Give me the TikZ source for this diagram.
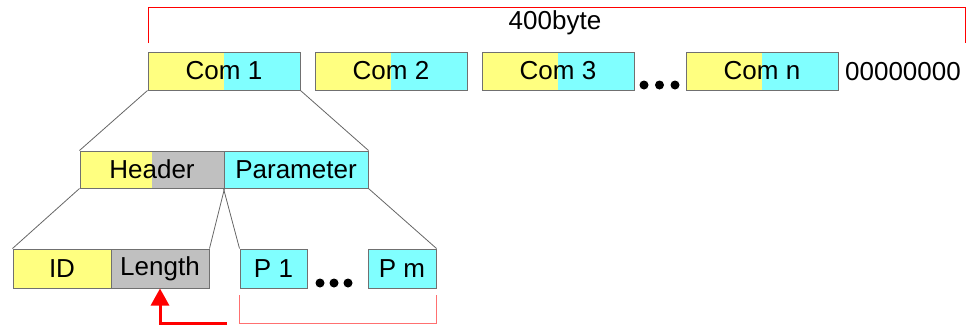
\documentclass[tikz,border=0pt]{standalone}
\usepackage{fontspec}
\setmainfont{Liberation Sans}
\usetikzlibrary{arrows.meta}
\definecolor{ylw}{HTML}{FFFF80}
\definecolor{cyn}{HTML}{80FFFF}
\definecolor{gry}{HTML}{C0C0C0}
\definecolor{edge}{HTML}{707070}
\definecolor{lred}{HTML}{FF7070}
\tikzset{
  box/.style={draw=edge, line width=1pt, inner sep=0pt, minimum height=38pt,
    font=\fontsize{26}{30}\selectfont},
  halves/.style 2 args={box, fill=#2, path picture={
    \fill[#1] (path picture bounding box.south west) rectangle (path picture bounding box.north);}},
  fan/.style={draw=black!60, line width=0.8pt},
  dotc/.style={fill=black},
  lbl/.style={inner sep=0pt, font=\fontsize{26}{30}\selectfont},
}
\begin{document}
\begin{tikzpicture}[x=1pt,y=-1pt]
\useasboundingbox (0,0) rectangle (978,327);
% top bracket
\coordinate (tl) at (148,43);
\coordinate (tr) at (965,43);
\draw[red, line width=0.8pt] (tl) -- (148,7) -- (965,7) -- (tr);
\node[lbl] (bytes) at (555,23) {400byte};
% com boxes
\node[halves={ylw}{cyn}, minimum width=152pt] (c1) at (224,71) {Com 1};
\node[halves={ylw}{cyn}, minimum width=152pt] (c2) at (391,71) {Com 2};
\node[halves={ylw}{cyn}, minimum width=152pt] (c3) at (558,71) {Com 3};
\node[halves={ylw}{cyn}, minimum width=152pt] (cn) at (762,71) {Com n};
\fill[dotc] (644,85) circle (4.5) (659.5,85) circle (4.5) (675,85) circle (4.5);
\node[lbl] (zeros) at (903,72) {00000000};
% header / parameter
\node[halves={ylw}{gry}, minimum width=144pt, minimum height=37pt] (hdr) at (152,169.5) {Header};
\node[box, fill=cyn, minimum width=144pt, minimum height=37pt] (par) at (296,169.5) {Parameter};
% bottom row
\node[box, fill=ylw, minimum width=98pt, minimum height=39pt] (id) at (62,268.5) {ID};
\node[box, fill=gry, minimum width=98pt, minimum height=39pt] (len) at (160,268.5) {Length};
\node[box, fill=cyn, minimum width=67pt, minimum height=39pt] (p1) at (273.5,268.5) {P 1};
\node[box, fill=cyn, minimum width=68pt, minimum height=39pt] (pm) at (402,268.5) {P m};
\fill[dotc] (320,283) circle (4.5) (334,283) circle (4.5) (348,283) circle (4.5);
% fan lines
\draw[fan] (c1.south west) -- (hdr.north west);
\draw[fan] (c1.south east) -- (par.north east);
\draw[fan] (hdr.south west) -- (id.north west);
\draw[fan] (hdr.south east) -- (len.north east);
\draw[fan] (par.south west) -- (p1.north west);
\draw[fan] (par.south east) -- (pm.north east);
% lower bracket
\coordinate (bl) at (239.5,295);
\coordinate (br) at (436,295);
\draw[lred, line width=0.8pt] (bl) -- (239.5,323) -- (436,323) -- (br);
% red arrow
\coordinate (as) at (227,323);
\draw[red, line width=3pt, -{Triangle[length=17pt,width=18pt]}] (as) -- (160,323) -- (len.south);
\end{tikzpicture}
\end{document}
